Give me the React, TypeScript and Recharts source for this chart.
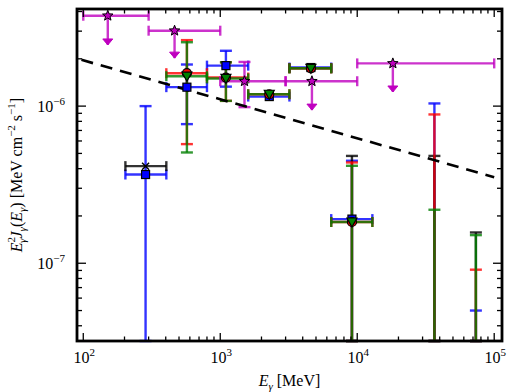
import React from 'react';
import { ScatterChart, Scatter, XAxis, YAxis, ErrorBar } from 'recharts';

const W = 510;
const H = 392;
const MARGIN = { top: 8, right: 7, bottom: 21, left: 57 };
const PLOT_LEFT = 77;
const PLOT_RIGHT = 502;
const PLOT_TOP = 9;
const PLOT_BOTTOM = 341;

const X_DOMAIN = [90, 1.14e5];
const Y_DOMAIN = [3.2e-8, 4.15e-6];
// lower end for bars that run down to the bottom of the plot
const FLOOR = Y_DOMAIN[0];

const FONT = '"Liberation Serif", "DejaVu Serif", serif';

// shared energy bins (MeV)
const energy = [285, 571, 1100, 2280, 4590, 9150, 36600, 73500];
const binLow = [203, 404, 800, 1600, 3200, 6460, null, null];
const binHigh = [404, 800, 1600, 3200, 6460, 12900, null, null];

// E^2 J(E) per data set [MeV cm^-2 s^-1]; limits are bars from the top value down
const blueValue = [3.67e-7, 1.32e-6, 1.81e-6, 1.15e-6, 1.76e-6, 1.91e-7, 1.04e-6, 5.0e-8];
const blueLower = [FLOOR, 7.68e-7, 1.33e-6, null, null, FLOOR, FLOOR, FLOOR];
const blueUpper = [1.0e-6, 1.84e-6, 2.25e-6, null, null, 4.49e-7, null, null];
const blueLimit = [false, false, false, false, false, false, true, true];

const redValue = [null, 1.62e-6, 1.52e-6, 1.19e-6, 1.74e-6, 1.83e-7, 8.85e-7, 9.1e-8];
const redLower = [null, 5.73e-7, 1.08e-6, null, null, FLOOR, FLOOR, FLOOR];
const redUpper = [null, 2.63e-6, 1.9e-6, null, null, 4.38e-7, null, null];
const redLimit = [false, false, false, false, false, false, true, true];

const greenValue = [null, 1.55e-6, 1.5e-6, 1.19e-6, 1.74e-6, 1.83e-7, 2.19e-7, 1.51e-7];
const greenLower = [null, 5.07e-7, 1.08e-6, null, null, FLOOR, FLOOR, FLOOR];
const greenUpper = [null, 2.55e-6, 1.9e-6, null, null, 4.17e-7, null, null];
const greenLimit = [false, false, false, false, false, false, true, true];

const blackValue = [4.15e-7, null, null, null, 1.74e-6, 4.82e-7, 4.82e-7, 1.57e-7];
const blackLower = [null, null, null, null, null, FLOOR, FLOOR, FLOOR];
const blackUpper = [null, null, null, null, null, null, null, null];
const blackLimit = [false, false, false, false, false, true, true, true];

// magenta set has its own bins; arrows mark upper limits
const magEnergy = [151, 464, 1503, 4670, 18200];
const magLow = [100, 300, 1000, 3000, 10000];
const magHigh = [300, 1000, 3000, 10000, 100000];
const magValue = [3.76e-6, 3.02e-6, 1.44e-6, 1.44e-6, 1.87e-6];
const magErrLow = [null, null, 9.85e-7, null, null];
const magErrHigh = [null, null, 1.91e-6, null, null];
const magArrowTip = [2.45e-6, 2.02e-6, null, 9.43e-7, 1.23e-6];

// reference power law (dashed)
const lawEnergy = [97, 1e5];
const lawValue = [1.97e-6, 3.53e-7];

const X_TICKS: number[] = [];
for (let d = 100; d <= 1e5; d *= 10) {
  for (let m = 1; m < 10; m++) {
    const v = m * d;
    if (v >= X_DOMAIN[0] && v <= X_DOMAIN[1]) X_TICKS.push(v);
  }
}
const Y_TICKS: number[] = [];
for (let d = 1e-8; d <= 1e-6 * 1.01; d *= 10) {
  for (let m = 1; m < 10; m++) {
    const v = m * d;
    if (v >= Y_DOMAIN[0] && v <= Y_DOMAIN[1]) Y_TICKS.push(v);
  }
}

function buildTable(values, lower, upper, limits) {
  const rows: any[] = [];
  energy.forEach((e, i) => {
    const y = values[i];
    if (y == null) return;
    const lo = lower[i];
    const hi = upper[i];
    rows.push({
      e,
      y,
      limit: limits[i],
      ex: !limits[i] && binLow[i] != null ? [e - binLow[i], binHigh[i] - e] : null,
      ey: lo != null ? [y - lo, (hi ?? y) - y] : null,
    });
  });
  return rows;
}

const blueData = buildTable(blueValue, blueLower, blueUpper, blueLimit);
const redData = buildTable(redValue, redLower, redUpper, redLimit);
const greenData = buildTable(greenValue, greenLower, greenUpper, greenLimit);
const blackData = buildTable(blackValue, blackLower, blackUpper, blackLimit);

const magData = magEnergy.map((e, i) => ({
  e,
  y: magValue[i],
  ex: [e - magLow[i], magHigh[i] - e],
  ey: magErrLow[i] != null ? [magValue[i] - magErrLow[i], magErrHigh[i] - magValue[i]] : null,
}));
const magStems = magEnergy
  .map((e, i) => ({ e, y: magValue[i], tip: magArrowTip[i] }))
  .filter((d) => d.tip != null)
  .map((d) => ({ e: d.e, y: d.y, ey: [d.y - d.tip, 0] }));
const magTips = magEnergy
  .map((e, i) => ({ e, y: magArrowTip[i] }))
  .filter((d) => d.y != null);

const lawData = lawEnergy.map((e, i) => ({ e, y: lawValue[i] }));

const BLUE = '#0000ff';
const RED = '#ff0000';
const GREEN = '#008000';
const BLACK = '#000000';
const MAGENTA = '#bf00bf';

const isMajor = (v: number) => Math.abs(Math.log10(v) - Math.round(Math.log10(v))) < 1e-6;
const expOf = (v: number) => Math.round(Math.log10(v));
const supText = (n: number) => (n < 0 ? '\u2212' + Math.abs(n) : String(n));

const BottomTick = (props: any) => {
  const { x, payload } = props;
  const major = isMajor(payload.value);
  return (
    <g>
      <line x1={x} x2={x} y1={PLOT_BOTTOM} y2={PLOT_BOTTOM - (major ? 8 : 4.5)} stroke="#000" strokeWidth={1.3} />
      {major && (
        <text x={x + 1} y={PLOT_BOTTOM + 22} textAnchor="middle" fontFamily={FONT} fontSize={16} fill="#000">
          10<tspan dy={-7} fontSize={11}>{supText(expOf(payload.value))}</tspan>
        </text>
      )}
    </g>
  );
};

const TopTick = (props: any) => {
  const { x, payload } = props;
  const major = isMajor(payload.value);
  return <line x1={x} x2={x} y1={PLOT_TOP} y2={PLOT_TOP + (major ? 8 : 4.5)} stroke="#000" strokeWidth={1.3} />;
};

const LeftTick = (props: any) => {
  const { y, payload } = props;
  const major = isMajor(payload.value);
  return (
    <g>
      <line x1={PLOT_LEFT} x2={PLOT_LEFT + (major ? 9 : 5)} y1={y} y2={y} stroke="#000" strokeWidth={1.3} />
      {major && (
        <text x={PLOT_LEFT - 12} y={y + 6} textAnchor="end" fontFamily={FONT} fontSize={16} fill="#000">
          10<tspan dy={-7} fontSize={11}>{supText(expOf(payload.value))}</tspan>
        </text>
      )}
    </g>
  );
};

const RightTick = (props: any) => {
  const { y, payload } = props;
  const major = isMajor(payload.value);
  return <line x1={PLOT_RIGHT} x2={PLOT_RIGHT - (major ? 9 : 5)} y1={y} y2={y} stroke="#000" strokeWidth={1.3} />;
};

// marker shapes
const starPoints = (cx: number, cy: number, ro: number, ri: number) => {
  const pts: string[] = [];
  for (let k = 0; k < 10; k++) {
    const r = k % 2 === 0 ? ro : ri;
    const a = -Math.PI / 2 + (k * Math.PI) / 5;
    pts.push(`${cx + r * Math.cos(a)},${cy + r * Math.sin(a)}`);
  }
  return pts.join(' ');
};

const StarMark = ({ cx, cy }: any) => (
  <polygon points={starPoints(cx, cy, 5.5, 2.3)} fill={MAGENTA} stroke="#000" strokeWidth={1} />
);
const CircleMark = ({ cx, cy, payload }: any) =>
  payload.limit ? <g /> : <circle cx={cx} cy={cy} r={4.5} fill={RED} stroke="#000" strokeWidth={1.2} />;
const TriMark = ({ cx, cy, payload }: any) =>
  payload.limit ? (
    <g />
  ) : (
    <polygon points={`${cx - 5},${cy - 4} ${cx + 5},${cy - 4} ${cx},${cy + 5}`} fill={GREEN} stroke="#000" strokeWidth={1.2} />
  );
const SquareMark = ({ cx, cy, payload }: any) =>
  payload.limit ? <g /> : <rect x={cx - 4} y={cy - 4} width={8} height={8} fill={BLUE} stroke="#000" strokeWidth={1.2} />;
const CrossMark = ({ cx, cy, payload }: any) =>
  payload.limit ? (
    <g />
  ) : (
    <g stroke="#000" strokeWidth={1.4}>
      <line x1={cx - 3.5} y1={cy - 3.5} x2={cx + 3.5} y2={cy + 3.5} />
      <line x1={cx - 3.5} y1={cy + 3.5} x2={cx + 3.5} y2={cy - 3.5} />
    </g>
  );
const ArrowHead = ({ cx, cy }: any) => (
  <polygon points={`${cx - 5},${cy - 6} ${cx + 5},${cy - 6} ${cx},${cy}`} fill={MAGENTA} stroke={MAGENTA} strokeWidth={1} />
);
const NoMark = () => <g />;

const BAR = { strokeWidth: 2.4, strokeOpacity: 0.8 };

const errorSeries = (data: any[], color: string, name: string) => (
  <Scatter key={name} name={name} data={data} shape={NoMark} isAnimationActive={false}>
    <ErrorBar dataKey="ex" direction="x" width={5} stroke={color} {...BAR} isAnimationActive={false} />
    <ErrorBar dataKey="ey" direction="y" width={6} stroke={color} {...BAR} isAnimationActive={false} />
  </Scatter>
);

export default function App() {
  return (
    <div style={{ position: 'absolute', left: 0, top: 0, width: W, height: H, background: '#fff' }}>
      <ScatterChart width={W} height={H} margin={MARGIN}>
        <XAxis
          type="number"
          dataKey="e"
          scale="log"
          domain={X_DOMAIN}
          allowDataOverflow
          ticks={X_TICKS}
          interval={0}
          height={30}
          tick={BottomTick}
          tickLine={false}
          axisLine={false}
        />
        <XAxis
          xAxisId="top"
          orientation="top"
          type="number"
          dataKey="e"
          scale="log"
          domain={X_DOMAIN}
          allowDataOverflow
          ticks={X_TICKS}
          interval={0}
          height={1}
          tick={TopTick}
          tickLine={false}
          axisLine={false}
        />
        <YAxis
          type="number"
          dataKey="y"
          scale="log"
          domain={Y_DOMAIN}
          allowDataOverflow
          ticks={Y_TICKS}
          interval={0}
          width={20}
          tick={LeftTick}
          tickLine={false}
          axisLine={false}
        />
        <YAxis
          yAxisId="right"
          orientation="right"
          type="number"
          dataKey="y"
          scale="log"
          domain={Y_DOMAIN}
          allowDataOverflow
          ticks={Y_TICKS}
          interval={0}
          width={1}
          tick={RightTick}
          tickLine={false}
          axisLine={false}
        />

        <Scatter
          name="law"
          data={lawData}
          fill="#000"
          shape={NoMark}
          line={{ stroke: '#000', strokeWidth: 2.6, strokeDasharray: '12 8' }}
          isAnimationActive={false}
        />

        {errorSeries(blueData, BLUE, 'blue-err')}
        {errorSeries(blackData, BLACK, 'black-err')}
        {errorSeries(redData, RED, 'red-err')}
        {errorSeries(greenData, GREEN, 'green-err')}

        <Scatter name="blue" data={blueData} shape={SquareMark} isAnimationActive={false} />
        <Scatter name="black" data={blackData} shape={CrossMark} isAnimationActive={false} />
        <Scatter name="red" data={redData} shape={CircleMark} isAnimationActive={false} />
        <Scatter name="green" data={greenData} shape={TriMark} isAnimationActive={false} />

        <Scatter name="mag-stem" data={magStems} shape={NoMark} isAnimationActive={false}>
          <ErrorBar dataKey="ey" direction="y" width={0} stroke={MAGENTA} {...BAR} isAnimationActive={false} />
        </Scatter>
        <Scatter name="mag-tip" data={magTips} shape={ArrowHead} isAnimationActive={false} />
        <Scatter name="magenta" data={magData} shape={StarMark} isAnimationActive={false}>
          <ErrorBar dataKey="ex" direction="x" width={5} stroke={MAGENTA} {...BAR} isAnimationActive={false} />
          <ErrorBar dataKey="ey" direction="y" width={6} stroke={MAGENTA} {...BAR} isAnimationActive={false} />
        </Scatter>
      </ScatterChart>

      <svg width={W} height={H} style={{ position: 'absolute', left: 0, top: 0, pointerEvents: 'none' }}>
        {/* plot frame */}
        <rect
          x={PLOT_LEFT}
          y={PLOT_TOP}
          width={PLOT_RIGHT - PLOT_LEFT}
          height={PLOT_BOTTOM - PLOT_TOP}
          fill="none"
          stroke="#000"
          strokeWidth={2.8}
        />
        <text x={(PLOT_LEFT + PLOT_RIGHT) / 2} y={386} textAnchor="middle" fontFamily={FONT} fontSize={16} fill="#000">
          <tspan fontStyle="italic">E</tspan>
          <tspan dy={4} fontSize={11} fontStyle="italic">γ</tspan>
          <tspan dy={-4}> [MeV]</tspan>
        </text>
        <text
          transform={`translate(22, ${(PLOT_TOP + PLOT_BOTTOM) / 2}) rotate(-90)`}
          textAnchor="middle"
          fontFamily={FONT}
          fontSize={16}
          fill="#000"
        >
          <tspan fontStyle="italic">E</tspan>
          <tspan dy={-7} fontSize={11}>2</tspan>
          <tspan dx={-6} dy={11} fontSize={11} fontStyle="italic">γ</tspan>
          <tspan dy={-4} fontStyle="italic">J</tspan>
          <tspan dy={4} fontSize={11} fontStyle="italic">γ</tspan>
          <tspan dy={-4}>(</tspan>
          <tspan fontStyle="italic">E</tspan>
          <tspan dy={4} fontSize={11} fontStyle="italic">γ</tspan>
          <tspan dy={-4}>) [MeV cm</tspan>
          <tspan dy={-7} fontSize={11}>{'\u22122'}</tspan>
          <tspan dy={7}> s</tspan>
          <tspan dy={-7} fontSize={11}>{'\u22121'}</tspan>
          <tspan dy={7}>]</tspan>
        </text>
      </svg>
    </div>
  );
}
